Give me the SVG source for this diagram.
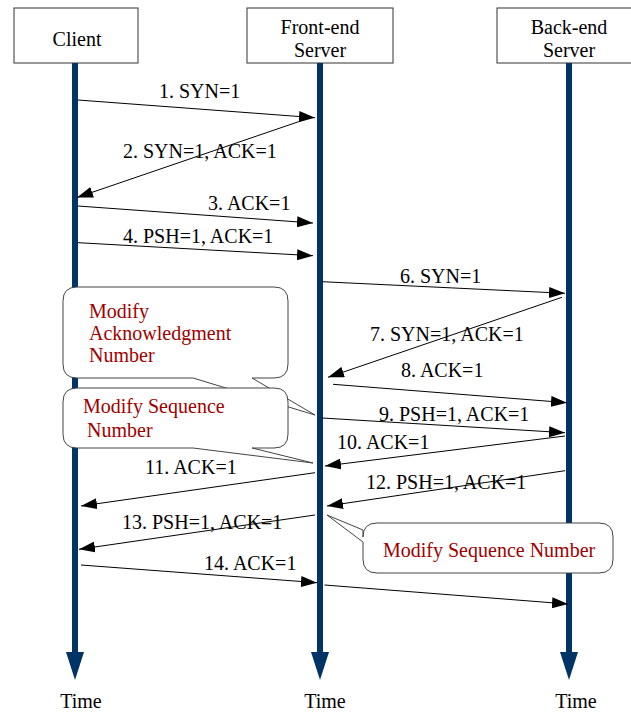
<svg xmlns="http://www.w3.org/2000/svg" width="631" height="713" viewBox="0 0 631 713">
  <style>
    .box { fill: #ffffff; stroke: #333333; stroke-width: 1; }
    .life { stroke: #003366; stroke-width: 6; fill: none; }
    .lifehead { fill: #003366; }
    .lbl { font-family: 'Liberation Serif', 'DejaVu Serif', serif; font-size: 20px; fill: #000000; }
    .mid { text-anchor: middle; }
    .msg { stroke: #000000; stroke-width: 1; fill: none; marker-end: url(#arrow); }
    .note { fill: #ffffff; stroke: #444444; stroke-width: 1; stroke-linejoin: round; }
    .notetxt { font-family: 'Liberation Serif', 'DejaVu Serif', serif; font-size: 20px; fill: #A00000; }
  </style>
  <defs>
    <marker id="arrow" markerUnits="userSpaceOnUse" markerWidth="16" markerHeight="11" refX="16" refY="5.5" orient="auto">
      <path d="M0,0 L16,5.5 L0,11 Z" fill="#000000"/>
    </marker>
  </defs>
  <rect width="631" height="713" fill="#ffffff"/>

  <!-- participants with their time lines -->
  <g id="client">
    <rect class="box" x="14" y="8" width="124" height="55"/>
    <text class="lbl mid" x="77" y="46">Client</text>
    <line class="life" x1="75" y1="63" x2="75" y2="654"/>
    <path class="lifehead" d="M66,652 L84,652 L75,680 Z"/>
    <text class="lbl mid" x="81" y="708">Time</text>
  </g>
  <g id="front-end">
    <rect class="box" x="247" y="8" width="146" height="55"/>
    <text class="lbl mid" x="320" y="34">Front-end</text>
    <text class="lbl mid" x="320" y="57">Server</text>
    <line class="life" x1="320" y1="63" x2="320" y2="654"/>
    <path class="lifehead" d="M311,652 L329,652 L320,680 Z"/>
    <text class="lbl mid" x="325" y="708">Time</text>
  </g>
  <g id="back-end">
    <rect class="box" x="497" y="8" width="146" height="55"/>
    <text class="lbl mid" x="569" y="34">Back-end</text>
    <text class="lbl mid" x="569" y="57">Server</text>
    <line class="life" x1="569" y1="63" x2="569" y2="654"/>
    <path class="lifehead" d="M560,652 L578,652 L569,680 Z"/>
    <text class="lbl mid" x="576" y="708">Time</text>
  </g>

  <!-- messages -->
  <g id="connectors">
    <line class="msg" x1="78" y1="100" x2="315" y2="117.7"/>
    <line class="msg" x1="305" y1="119.5" x2="77" y2="197.5"/>
    <line class="msg" x1="78" y1="206" x2="313" y2="223"/>
    <line class="msg" x1="78" y1="242.7" x2="313" y2="255.7"/>
    <line class="msg" x1="322" y1="281.7" x2="565" y2="293.3"/>
    <line class="msg" x1="562" y1="297.3" x2="328" y2="377.3"/>
    <line class="msg" x1="333" y1="384.3" x2="567" y2="402.7"/>
    <line class="msg" x1="322" y1="418" x2="565" y2="432.7"/>
    <line class="msg" x1="565" y1="436" x2="325" y2="466"/>
    <line class="msg" x1="315" y1="472.7" x2="81" y2="506"/>
    <line class="msg" x1="565" y1="470.7" x2="327" y2="506"/>
    <line class="msg" x1="315" y1="515" x2="79" y2="549.3"/>
    <line class="msg" x1="81" y1="565" x2="317" y2="582.7"/>
    <line class="msg" x1="324.5" y1="585" x2="568" y2="604"/>

    <text class="lbl" x="159" y="98">1. SYN=1</text>
    <text class="lbl" x="123" y="158">2. SYN=1, ACK=1</text>
    <text class="lbl" x="208" y="210">3. ACK=1</text>
    <text class="lbl" x="123" y="243">4. PSH=1, ACK=1</text>
    <text class="lbl" x="400" y="283">6. SYN=1</text>
    <text class="lbl" x="370" y="341">7. SYN=1, ACK=1</text>
    <text class="lbl" x="401" y="377">8. ACK=1</text>
    <text class="lbl" x="379" y="421">9. PSH=1, ACK=1</text>
    <text class="lbl" x="337" y="448.5">10. ACK=1</text>
    <text class="lbl" x="145" y="474">11. ACK=1</text>
    <text class="lbl" x="366" y="488.5">12. PSH=1, ACK=1</text>
    <text class="lbl" x="122" y="529">13. PSH=1, ACK=1</text>
    <text class="lbl" x="204" y="569.5">14. ACK=1</text>
  </g>

  <!-- callout notes -->
  <g id="note-ack">
    <path class="note" d="M77,287 H274 Q288,287 288,301 V364 Q288,378 274,378 H252 L315,415 L193,378 H77 Q63,378 63,364 V301 Q63,287 77,287 Z"/>
    <text class="notetxt" x="89" y="318">Modify</text>
    <text class="notetxt" x="89" y="340">Acknowledgment</text>
    <text class="notetxt" x="89" y="362">Number</text>
  </g>
  <g id="note-seq-1">
    <path class="note" d="M77,388 H274 Q288,388 288,402 V434 Q288,448 274,448 H252 L313,463 L193,448 H77 Q63,448 63,434 V402 Q63,388 77,388 Z"/>
    <text class="notetxt" x="83" y="413">Modify Sequence</text>
    <text class="notetxt" x="87" y="437">Number</text>
  </g>
  <g id="note-seq-2">
    <path class="note" d="M377,523 H599 Q613,523 613,537 V559 Q613,573 599,573 H377 Q363,573 363,559 V542 L327,515 L363,530 V537 Q363,523 377,523 Z"/>
    <text class="notetxt" x="383" y="557">Modify Sequence Number</text>
  </g>
</svg>
